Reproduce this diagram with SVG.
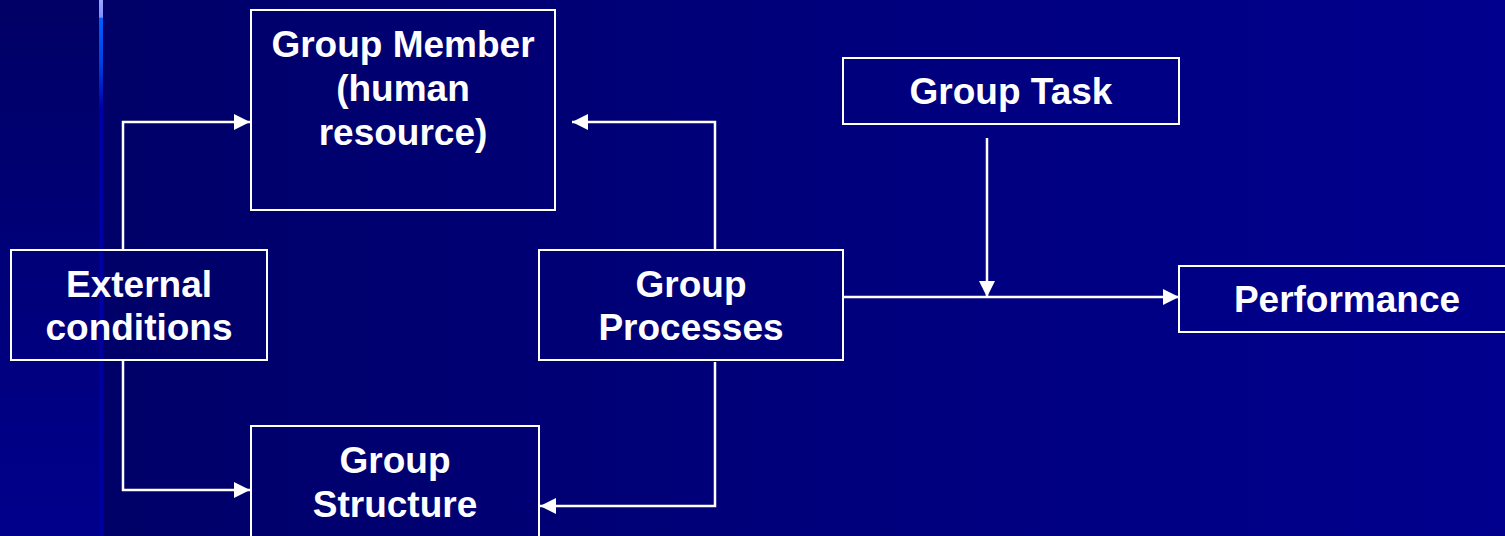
<svg xmlns="http://www.w3.org/2000/svg" width="1505" height="536" viewBox="0 0 1505 536">
<defs>
<linearGradient id="bgMain" x1="0" y1="0" x2="1" y2="0">
<stop offset="0" stop-color="#000066"/>
<stop offset="1" stop-color="#00008E"/>
</linearGradient>
<linearGradient id="bgLeft" x1="0" y1="0" x2="0" y2="1">
<stop offset="0" stop-color="#000066"/>
<stop offset="1" stop-color="#00008C"/>
</linearGradient>
<linearGradient id="bar" x1="0" y1="0" x2="0" y2="1">
<stop offset="0" stop-color="#9aa6ff"/>
<stop offset="0.032" stop-color="#8090ff"/>
<stop offset="0.034" stop-color="#0060ff"/>
<stop offset="0.12" stop-color="#0040e0"/>
<stop offset="0.2" stop-color="#0000a8"/>
<stop offset="1" stop-color="#0000a0"/>
</linearGradient>
<marker id="ah" viewBox="0 0 10 10" refX="10" refY="5" markerWidth="16" markerHeight="16" markerUnits="userSpaceOnUse" orient="auto">
<path d="M0,0 L10,5 L0,10 z" fill="#ffffff"/>
</marker>
<style>
.box{fill:none;stroke:#ffffff;stroke-width:2}
.t{font-family:"Liberation Sans",Arial,sans-serif;font-weight:bold;font-size:37px;fill:#ffffff;text-anchor:middle}
.c{fill:none;stroke:#ffffff;stroke-width:2.5;marker-end:url(#ah)}
</style>
</defs>
<rect x="0" y="0" width="1505" height="536" fill="url(#bgMain)"/>
<rect x="0" y="0" width="104" height="536" fill="url(#bgLeft)"/>
<rect x="99" y="0" width="4" height="536" fill="url(#bar)"/>

<g id="connectors">
<polyline class="c" points="123,250 123,122 250,122"/>
<polyline class="c" points="123,361 123,490 250,490"/>
<polyline class="c" points="715,250 715,122 572,122"/>
<polyline class="c" points="715,362 715,506 540,506"/>
<polyline class="c" points="843,297 1179,297"/>
<polyline class="c" points="987,138 987,297"/>
</g>

<g id="group-member">
<rect class="box" x="251" y="10" width="304" height="200"/>
<text class="t" x="403" y="57">Group Member</text>
<text class="t" x="403" y="101">(human</text>
<text class="t" x="403" y="145">resource)</text>
</g>
<g id="group-task">
<rect class="box" x="843" y="58" width="336" height="66"/>
<text class="t" x="1011" y="104">Group Task</text>
</g>
<g id="external-conditions">
<rect class="box" x="11" y="250" width="256" height="110"/>
<text class="t" x="139" y="297">External</text>
<text class="t" x="139" y="340">conditions</text>
</g>
<g id="group-processes">
<rect class="box" x="539" y="250" width="304" height="110"/>
<text class="t" x="691" y="297">Group</text>
<text class="t" x="691" y="340">Processes</text>
</g>
<g id="performance">
<rect class="box" x="1179" y="266" width="340" height="66"/>
<text class="t" x="1347" y="312">Performance</text>
</g>
<g id="group-structure">
<rect class="box" x="251" y="426" width="288" height="120"/>
<text class="t" x="395" y="473">Group</text>
<text class="t" x="395" y="517">Structure</text>
</g>
</svg>
